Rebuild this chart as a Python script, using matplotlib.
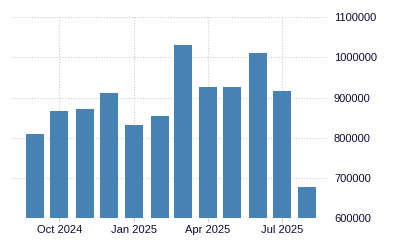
import matplotlib
matplotlib.use("Agg")
import matplotlib.pyplot as plt
import matplotlib.dates as mdates
import numpy as np
import datetime as dt

months = ["2024-09", "2024-10", "2024-11", "2024-12", "2025-01", "2025-02",
          "2025-03", "2025-04", "2025-05", "2025-06", "2025-07", "2025-08"]
values = [810000, 867000, 872000, 912000, 832000, 855000,
          1031000, 927000, 927000, 1011000, 917000, 678000]
yticks = [600000, 700000, 800000, 900000, 1000000, 1100000]
xtick_dates = ["2024-10", "2025-01", "2025-04", "2025-07"]
xtick_labels = ["Oct 2024", "Jan 2025", "Apr 2025", "Jul 2025"]

def to_date(s):
    y, m = s.split("-")
    return dt.date(int(y), int(m), 1)

dates = [to_date(m) for m in months]

plt.rcParams['font.family'] = ['Liberation Sans', 'DejaVu Sans']

fig = plt.figure(figsize=(4, 2.5), dpi=100)
ax = fig.add_axes([0.03, 0.127, 0.7875, 0.804])

ax.bar(dates, values, width=22, color="#4682b4", zorder=2)

ax.set_ylim(600000, 1100000)
ax.set_yticks(yticks)
ax.set_yticklabels([str(v) for v in yticks])
ax.yaxis.tick_right()

ax.set_xlim(dt.date(2024, 8, 4), dt.date(2025, 8, 25))
ax.set_xticks([to_date(d) for d in xtick_dates])
ax.set_xticklabels(xtick_labels)

for s in ax.spines.values():
    s.set_visible(False)

ax.grid(True, color="#cccccc", linestyle=(0, (1, 1.5)), linewidth=0.8, zorder=0)
ax.tick_params(axis="y", length=0, pad=5, labelsize=8, labelcolor="#0d0d35")
ax.tick_params(axis="x", length=3, color="#cccccc", pad=2, labelsize=8, labelcolor="#0d0d35")

fig.savefig("out.png", dpi=100)
